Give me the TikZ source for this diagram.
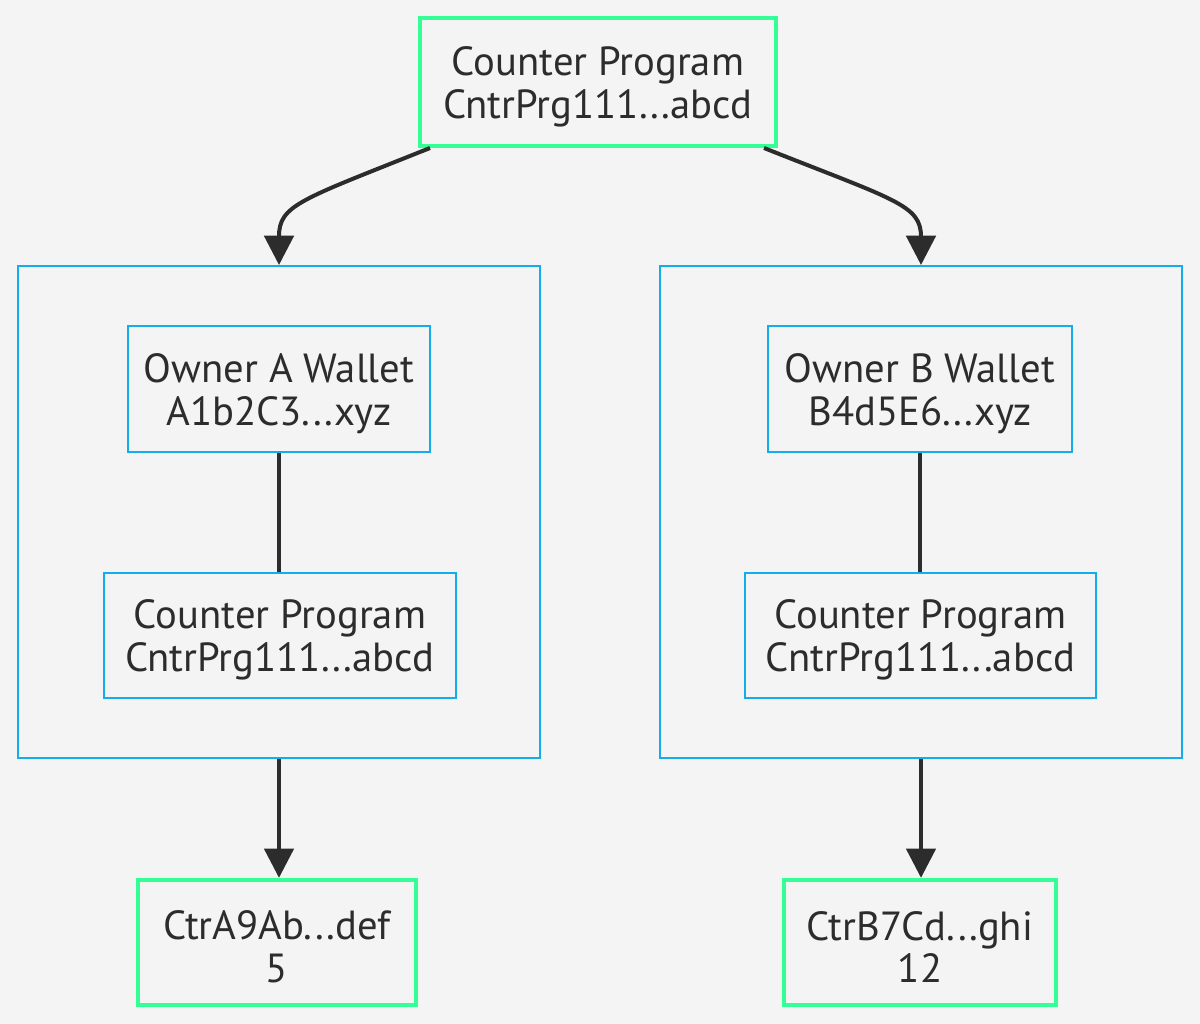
\documentclass[tikz,border=0pt]{standalone}
\usepackage{fontspec}
\setmainfont{PT Sans}
\usetikzlibrary{arrows.meta,calc}
\definecolor{bg}{HTML}{F4F4F4}
\definecolor{grn}{RGB}{52,255,150}
\definecolor{blu}{RGB}{20,172,235}
\definecolor{ink}{HTML}{2C2C2C}
\newcommand\toppad{\rule{0pt}{28.5pt}}
\tikzset{
  txt/.style={align=center,text=ink,font=\fontsize{30.5}{32}\selectfont,inner sep=0pt},
  greenbox/.style={txt,draw=grn,line width=3pt,fill=bg},
  bluebox/.style={txt,draw=blu,line width=1.5pt,fill=bg},
  cluster/.style={draw=blu,line width=1.5pt,fill=bg,inner sep=0pt},
  conn/.style={draw=ink,line width=3pt},
  arr/.style={conn,-{Triangle[width=22pt,length=22pt]}}
}
\begin{document}
\begin{tikzpicture}[x=0.75pt,y=-0.75pt]
\fill[bg] (0,0) rectangle (1200,1024);
\useasboundingbox (0,0) rectangle (1200,1024);
\node[greenbox,minimum width=267pt,minimum height=96pt] (top) at (598,82) {\toppad Counter Program\\CntrPrg111...abcd};
\node[cluster,minimum width=391.5pt,minimum height=369pt] (clA) at (279,512) {};
\node[cluster,minimum width=391.5pt,minimum height=369pt] (clB) at (921,512) {};
\node[bluebox,minimum width=226.5pt,minimum height=94.5pt] (ownA) at (279,389) {\toppad Owner A Wallet\\A1b2C3...xyz};
\node[bluebox,minimum width=264pt,minimum height=94pt] (cpA) at (280,635.5) {\toppad Counter Program\\CntrPrg111...abcd};
\node[bluebox,minimum width=228pt,minimum height=94.5pt] (ownB) at (920,389) {\toppad Owner B Wallet\\B4d5E6...xyz};
\node[bluebox,minimum width=263pt,minimum height=94pt] (cpB) at (920.5,635.5) {\toppad Counter Program\\CntrPrg111...abcd};
\node[greenbox,minimum width=208.5pt,minimum height=94pt] (ctA) at (277,942.5) {\toppad CtrA9Ab...def\\5};
\node[greenbox,minimum width=204pt,minimum height=94pt] (ctB) at (920,942.5) {\toppad CtrB7Cd...ghi\\12};
\coordinate (tl) at ($(top.south west)+(12,0)$);
\coordinate (tr) at ($(top.south east)+(-14,0)$);
\draw[arr] (tl) .. controls (300,200) and (279,205) .. (clA.north);
\draw[arr] (tr) .. controls (895,200) and (921,205) .. (clB.north);
\draw[conn] (ownA.south) -- (ownA.south |- cpA.north);
\draw[conn] (ownB.south) -- (ownB.south |- cpB.north);
\draw[arr] (clA.south) -- (clA.south |- ctA.north);
\draw[arr] (clB.south) -- (clB.south |- ctB.north);
\end{tikzpicture}
\end{document}
